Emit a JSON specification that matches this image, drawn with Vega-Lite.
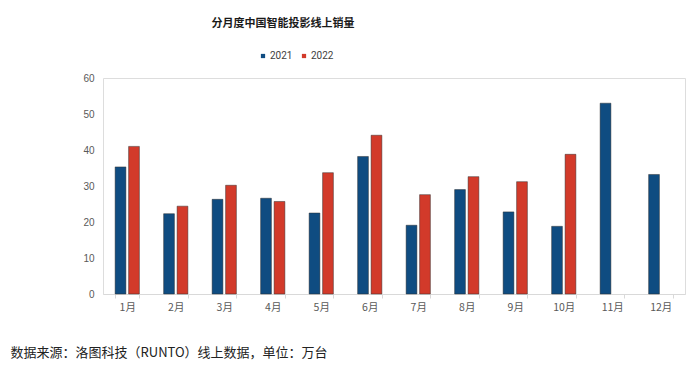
{
  "$schema": "https://vega.github.io/schema/vega-lite/v6.json",
  "width": 582,
  "height": 216,
  "autosize": {"type": "none"},
  "padding": {"left": 103, "top": 78, "right": 15, "bottom": 77},
  "background": "white",
  "title": {
    "text": "分月度中国智能投影线上销量",
    "anchor": "middle",
    "frame": "group",
    "dx": -111,
    "offset": 22,
    "font": "Noto Sans CJK SC",
    "fontSize": 11,
    "fontWeight": "bold",
    "color": "#1a1a1a"
  },
  "data": {
    "values": [
      {"month": "1月", "year": "2021", "sales": 35.3},
      {"month": "1月", "year": "2022", "sales": 41.0},
      {"month": "2月", "year": "2021", "sales": 22.3},
      {"month": "2月", "year": "2022", "sales": 24.4},
      {"month": "3月", "year": "2021", "sales": 26.3},
      {"month": "3月", "year": "2022", "sales": 30.2},
      {"month": "4月", "year": "2021", "sales": 26.6},
      {"month": "4月", "year": "2022", "sales": 25.7},
      {"month": "5月", "year": "2021", "sales": 22.5},
      {"month": "5月", "year": "2022", "sales": 33.7},
      {"month": "6月", "year": "2021", "sales": 38.2},
      {"month": "6月", "year": "2022", "sales": 44.1},
      {"month": "7月", "year": "2021", "sales": 19.1},
      {"month": "7月", "year": "2022", "sales": 27.6},
      {"month": "8月", "year": "2021", "sales": 29.0},
      {"month": "8月", "year": "2022", "sales": 32.6},
      {"month": "9月", "year": "2021", "sales": 22.8},
      {"month": "9月", "year": "2022", "sales": 31.2},
      {"month": "10月", "year": "2021", "sales": 18.8},
      {"month": "10月", "year": "2022", "sales": 38.8},
      {"month": "11月", "year": "2021", "sales": 53.0},
      {"month": "12月", "year": "2021", "sales": 33.2}
    ]
  },
  "mark": {"type": "bar", "strokeWidth": 0.8, "stroke": "#2a2a2a", "strokeOpacity": 0.6},
  "encoding": {
    "x": {
      "field": "month",
      "type": "nominal",
      "sort": null,
      "scale": {"paddingInner": 0.5, "paddingOuter": 0.25},
      "axis": {
        "title": "数据来源：洛图科技（RUNTO）线上数据，单位：万台",
        "titleAnchor": "start",
        "titleAlign": "left",
        "titleX": -93,
        "titleY": 52,
        "titleFont": "Noto Sans CJK SC",
        "titleFontSize": 13,
        "titleFontWeight": "normal",
        "titleColor": "#222222",
        "labelAngle": 0,
        "labelFont": "Noto Sans CJK SC",
        "labelFontSize": 10.5,
        "labelColor": "#595959",
        "labelPadding": 4,
        "domainColor": "#d9d9d9",
        "tickColor": "#d9d9d9",
        "tickBand": "extent",
        "tickSize": 4
      }
    },
    "xOffset": {"field": "year", "type": "nominal", "scale": {"paddingInner": 0.2}},
    "y": {
      "field": "sales",
      "type": "quantitative",
      "scale": {"domain": [0, 60]},
      "axis": {
        "title": null,
        "values": [0, 10, 20, 30, 40, 50, 60],
        "grid": false,
        "domain": false,
        "ticks": false,
        "labelPadding": 9,
        "labelFont": "Liberation Sans",
        "labelFontSize": 10,
        "labelColor": "#595959"
      }
    },
    "color": {
      "field": "year",
      "type": "nominal",
      "scale": {"domain": ["2021", "2022"], "range": ["#0f4c81", "#d23a2a"]},
      "legend": {
        "title": null,
        "orient": "none",
        "direction": "horizontal",
        "legendX": 155,
        "legendY": -27,
        "symbolType": "square",
        "symbolSize": 18,
        "symbolStrokeWidth": 0,
        "labelFont": "Roboto",
        "labelFontSize": 10,
        "labelColor": "#404040",
        "labelOffset": 2,
        "columnPadding": 6
      }
    }
  }
}
